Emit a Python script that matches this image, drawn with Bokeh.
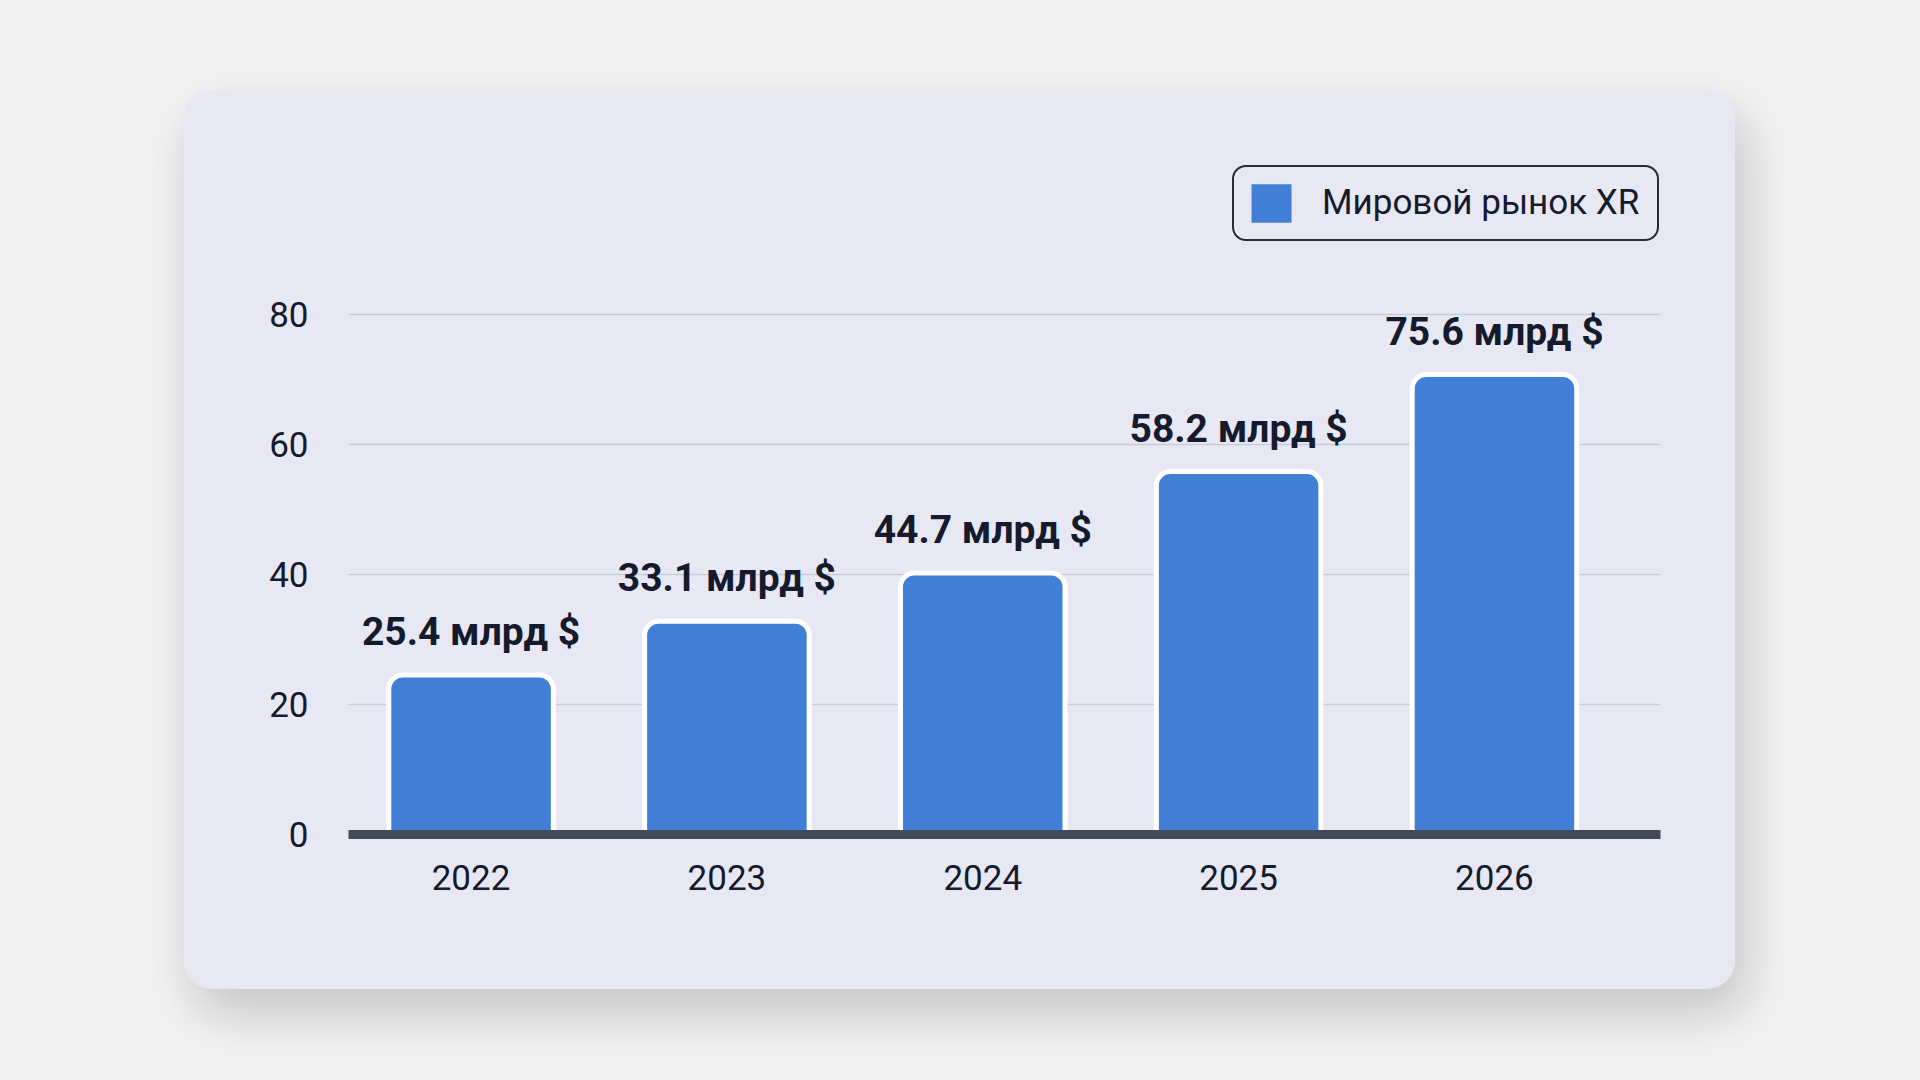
from bokeh.plotting import figure
from bokeh.layouts import column
from bokeh.models import Range1d, FixedTicker
from bokeh.core.properties import value
from bokeh.embed import file_html
from bokeh.resources import INLINE

# ---- data ----
years = ["2022", "2023", "2024", "2025", "2026"]
bar_values = [24.5, 32.8, 40.2, 55.8, 70.7]
bar_labels = ["25.4 млрд $", "33.1 млрд $", "44.7 млрд $", "58.2 млрд $", "75.6 млрд $"]
y_ticks = [0, 20, 40, 60, 80]
series_name = "Мировой рынок XR"

# ---- style ----
PAGE_W, PAGE_H = 1920, 1080
CARD_W, CARD_H = 1551, 899
FONT = "Roboto"
BG = "#f1f1f1"
CARD = "#e8e8f5"
BLUE = "#4280d7"
INK = "#151a2c"
AXIS = "#434a59"
GRID = "#cacad8"

x_pos = list(range(len(years)))

p = figure(width=CARD_W, height=CARD_H, output_backend="svg", toolbar_location=None,
           title=None,
           x_range=Range1d(-0.479, 4.649), y_range=Range1d(0, 104.84),
           min_border_left=164, min_border_right=75,
           min_border_top=62, min_border_bottom=155,
           background_fill_color=None, border_fill_color=None,
           outline_line_color=None)
p.margin = (90, 0, 0, 184)
p.styles = {"background-color": CARD, "border-radius": "28px", "overflow": "hidden",
            "box-shadow": "10px 24px 50px rgba(0,0,0,0.18)"}

# grid
p.xgrid.visible = False
p.ygrid.ticker = FixedTicker(ticks=y_ticks)
p.ygrid.grid_line_color = GRID
p.ygrid.grid_line_width = 1.5

# y axis
p.yaxis.ticker = FixedTicker(ticks=y_ticks)
p.yaxis.axis_line_color = None
p.yaxis.major_tick_line_color = None
p.yaxis.major_tick_out = 0
p.yaxis.major_tick_in = 0
p.yaxis.minor_tick_line_color = None
p.yaxis.major_label_text_font = FONT
p.yaxis.major_label_text_font_size = "35px"
p.yaxis.major_label_text_color = INK
p.yaxis.major_label_standoff = 40

# x axis
p.xaxis.ticker = FixedTicker(ticks=x_pos)
p.xaxis.major_label_overrides = {i: y for i, y in zip(x_pos, years)}
p.xaxis.axis_line_width = 9
p.xaxis.axis_line_color = AXIS
p.xaxis.major_tick_line_color = None
p.xaxis.major_tick_out = 0
p.xaxis.major_tick_in = 0
p.xaxis.minor_tick_line_color = None
p.xaxis.major_label_text_font = FONT
p.xaxis.major_label_text_font_size = "35px"
p.xaxis.major_label_text_color = INK
p.xaxis.major_label_standoff = 30

# legend proxy (hidden beneath the real bars)
p.vbar(x=x_pos, top=bar_values, bottom=0, width=0.6,
       fill_color=BLUE, line_color=None, border_radius=7,
       legend_label=series_name)

# bars
p.vbar(x=x_pos, top=bar_values, bottom=0, width=0.643,
       fill_color=BLUE, line_color="white", line_width=5,
       border_radius=(14, 14, 0, 0))

# value labels
p.text(x=x_pos, y=bar_values, text=bar_labels, text_align="center",
       text_baseline="alphabetic", y_offset=-43,
       text_font=value(FONT), text_font_style="bold",
       text_font_size="39px", text_color=INK)

leg = p.legend[0]
leg.location = (884, 593.3)
leg.glyph_width = 50
leg.glyph_height = 48
leg.label_height = 48
leg.padding = 12
leg.label_standoff = 26
leg.label_width = 323
leg.label_text_font = FONT
leg.label_text_font_size = "35px"
leg.label_text_color = INK
leg.border_line_color = "#262b3a"
leg.border_line_width = 2
leg.border_line_alpha = 1
leg.background_fill_color = CARD
leg.background_fill_alpha = 1
if "border_radius" in leg.properties():
    leg.border_radius = 14

page = column(p, width=PAGE_W, height=PAGE_H,
              styles={"background-color": BG})

open("out.html", "w").write(file_html(page, INLINE))
